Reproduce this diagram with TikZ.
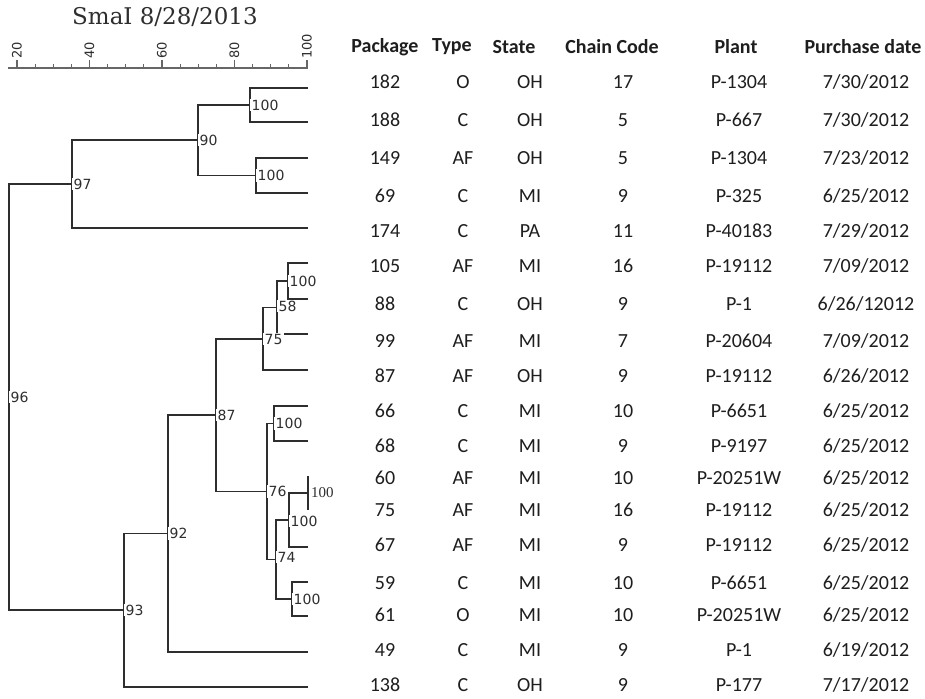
\documentclass[tikz,border=0pt]{standalone}
\usepackage{fontspec}
\setmainfont{Carlito}
\newfontfamily\titlefont{DejaVu Serif}
\newfontfamily\dendfont{DejaVu Sans}
\newfontfamily\timesfont{Liberation Serif}
\definecolor{ln}{HTML}{2E2E2E}
\definecolor{ax}{HTML}{666666}
\definecolor{tx}{HTML}{1E1E1E}
\tikzset{
  branch/.style={draw=ln, line width=1.9pt},
  lab/.style={fill=white, inner xsep=1.5pt, inner ysep=1pt, anchor=west, text=ln, font=\dendfont\fontsize{14}{14}\selectfont},
  axlab/.style={rotate=90, anchor=west, inner sep=0.5pt, text=ln, font=\dendfont\fontsize{13}{13}\selectfont},
  cell/.style={text=tx, inner sep=0pt, font=\fontsize{20}{20}\selectfont},
  head/.style={text=tx, inner sep=0pt, font=\bfseries\fontsize{20}{20}\selectfont},
}
\newcommand\trow[8]{%
  \node[cell] (pk#1) at (385,#2) {#3};
  \node[cell] (ty#1) at (463,#2) {#4};
  \node[cell] (st#1) at (530,#2) {#5};
  \node[cell] (cc#1) at (623,#2) {#6};
  \node[cell] (pl#1) at (739,#2) {#7};
  \node[cell] (dt#1) at (866,#2) {#8};
}
\begin{document}
\begin{tikzpicture}[x=1pt,y=-1pt]
\fill[white] (0,0) rectangle (925,698);
\useasboundingbox (0,0) rectangle (925,698);

% title and scale
\node[text=ln, font=\titlefont\fontsize{23}{23}\selectfont] (title) at (165,17) {SmaI 8/28/2013};
\coordinate (axL) at (8,68);
\coordinate (axR) at (308,68);
\draw[ax, line width=1.3pt] (axL) -- (axR);
\foreach \v in {20,25,...,100} {
  \draw[ax, line width=1.1pt] ({17+(\v-20)*3.625},68) -- ({17+(\v-20)*3.625},64.5);
}
\foreach \v in {20,40,60,80,100} {
  \draw[ax, line width=1.1pt] ({17+(\v-20)*3.625},68) -- ({17+(\v-20)*3.625},60);
  \node[axlab] (ax\v) at ({17+(\v-20)*3.625},59.5) {\v};
}

% leaves
\coordinate (l1) at (308,88);
\coordinate (l2) at (308,122);
\coordinate (l3) at (308,158);
\coordinate (l4) at (308,193);
\coordinate (l5) at (308,228);
\coordinate (l6) at (308,263);
\coordinate (l7) at (308,299);
\coordinate (l8) at (308,334);
\coordinate (l9) at (308,370);
\coordinate (l10) at (308,406);
\coordinate (l11) at (308,441);
\coordinate (l12) at (308,476);
\coordinate (l13) at (308,510);
\coordinate (l14) at (308,547);
\coordinate (l15) at (308,582);
\coordinate (l16) at (308,616);
\coordinate (l17) at (308,652);
\coordinate (l18) at (308,687);

% internal nodes
\coordinate (nA) at (250,105);
\coordinate (nB) at (256,175.5);
\coordinate (n90) at (198,140);
\coordinate (n97) at (72,184);
\coordinate (nC) at (288,281);
\coordinate (n58) at (277,307.5);
\coordinate (n75) at (263,339);
\coordinate (nD) at (274,423.5);
\coordinate (nX) at (308,493);
\coordinate (nE) at (289,520);
\coordinate (nF) at (292,599);
\coordinate (n74) at (276,559.5);
\coordinate (n76) at (267,491.5);
\coordinate (n87) at (216,415);
\coordinate (n92) at (168,533.5);
\coordinate (n93) at (124,610);
\coordinate (root) at (9,397);

\draw[branch] (l1) -| (nA) |- (l2);
\draw[branch] (l3) -| (nB) |- (l4);
\draw[branch] (nA) -| (n90) |- (nB);
\draw[branch] (n90) -| (n97) |- (l5);
\draw[branch] (l6) -| (nC) |- (l7);
\draw[branch] (nC) -| (n58) |- (l8);
\draw[branch] (n58) -| (n75) |- (l9);
\draw[branch] (l10) -| (nD) |- (l11);
\draw[branch] (l12) -- (l13);
\draw[branch] (nX) -| (nE) |- (l14);
\draw[branch] (l15) -| (nF) |- (l16);
\draw[branch] (nE) -| (n74) |- (nF);
\draw[branch] (nD) -| (n76) |- (n74);
\draw[branch] (n75) -| (n87) |- (n76);
\draw[branch] (n87) -| (n92) |- (l17);
\draw[branch] (n92) -| (n93) |- (l18);
\draw[branch] (n97) -| (root) |- (n93);

% support values
\node[lab] (tA) at (nA) {100};
\node[lab] (tB) at (nB) {100};
\node[lab] (t90) at (n90) {90};
\node[lab] (t97) at (n97) {97};
\node[lab] (t96) at (root) {96};
\node[lab] (tC) at (nC) {100};
\node[lab] (t58) at ([yshift=1.5pt]n58) {58};
\node[lab] (t75) at (n75) {75};
\node[lab] (t87) at (n87) {87};
\node[lab] (tD) at (nD) {100};
\node[lab] (t76) at (n76) {76};
\node[lab] (t74) at ([yshift=2.5pt]n74) {74};
\node[lab] (tE) at ([yshift=-1pt]nE) {100};
\node[lab] (tF) at (nF) {100};
\node[lab] (t92) at (n92) {92};
\node[lab] (t93) at (n93) {93};
\node[anchor=west, inner sep=1pt, text=ln, font=\timesfont\fontsize{15}{15}\selectfont] (tX) at ([xshift=2pt]nX) {100};

% table
\node[head] (h1) at (385,47) {Package};
\node[head] (h2) at (452,47) {Type};
\node[head] (h3) at (514,47) {State};
\node[head] (h4) at (612,47) {Chain Code};
\node[head] (h5) at (736,47) {Plant};
\node[head] (h6) at (863,47) {Purchase date};

\trow{1}{82}{182}{O}{OH}{17}{P-1304}{7/30/2012}
\trow{2}{120}{188}{C}{OH}{5}{P-667}{7/30/2012}
\trow{3}{158}{149}{AF}{OH}{5}{P-1304}{7/23/2012}
\trow{4}{196}{69}{C}{MI}{9}{P-325}{6/25/2012}
\trow{5}{231}{174}{C}{PA}{11}{P-40183}{7/29/2012}
\trow{6}{266}{105}{AF}{MI}{16}{P-19112}{7/09/2012}
\trow{7}{304}{88}{C}{OH}{9}{P-1}{6/26/12012}
\trow{8}{341}{99}{AF}{MI}{7}{P-20604}{7/09/2012}
\trow{9}{376}{87}{AF}{OH}{9}{P-19112}{6/26/2012}
\trow{10}{411}{66}{C}{MI}{10}{P-6651}{6/25/2012}
\trow{11}{446}{68}{C}{MI}{9}{P-9197}{6/25/2012}
\trow{12}{478}{60}{AF}{MI}{10}{P-20251W}{6/25/2012}
\trow{13}{510}{75}{AF}{MI}{16}{P-19112}{6/25/2012}
\trow{14}{545}{67}{AF}{MI}{9}{P-19112}{6/25/2012}
\trow{15}{583}{59}{C}{MI}{10}{P-6651}{6/25/2012}
\trow{16}{615}{61}{O}{MI}{10}{P-20251W}{6/25/2012}
\trow{17}{650}{49}{C}{MI}{9}{P-1}{6/19/2012}
\trow{18}{685}{138}{C}{OH}{9}{P-177}{7/17/2012}
\end{tikzpicture}
\end{document}
